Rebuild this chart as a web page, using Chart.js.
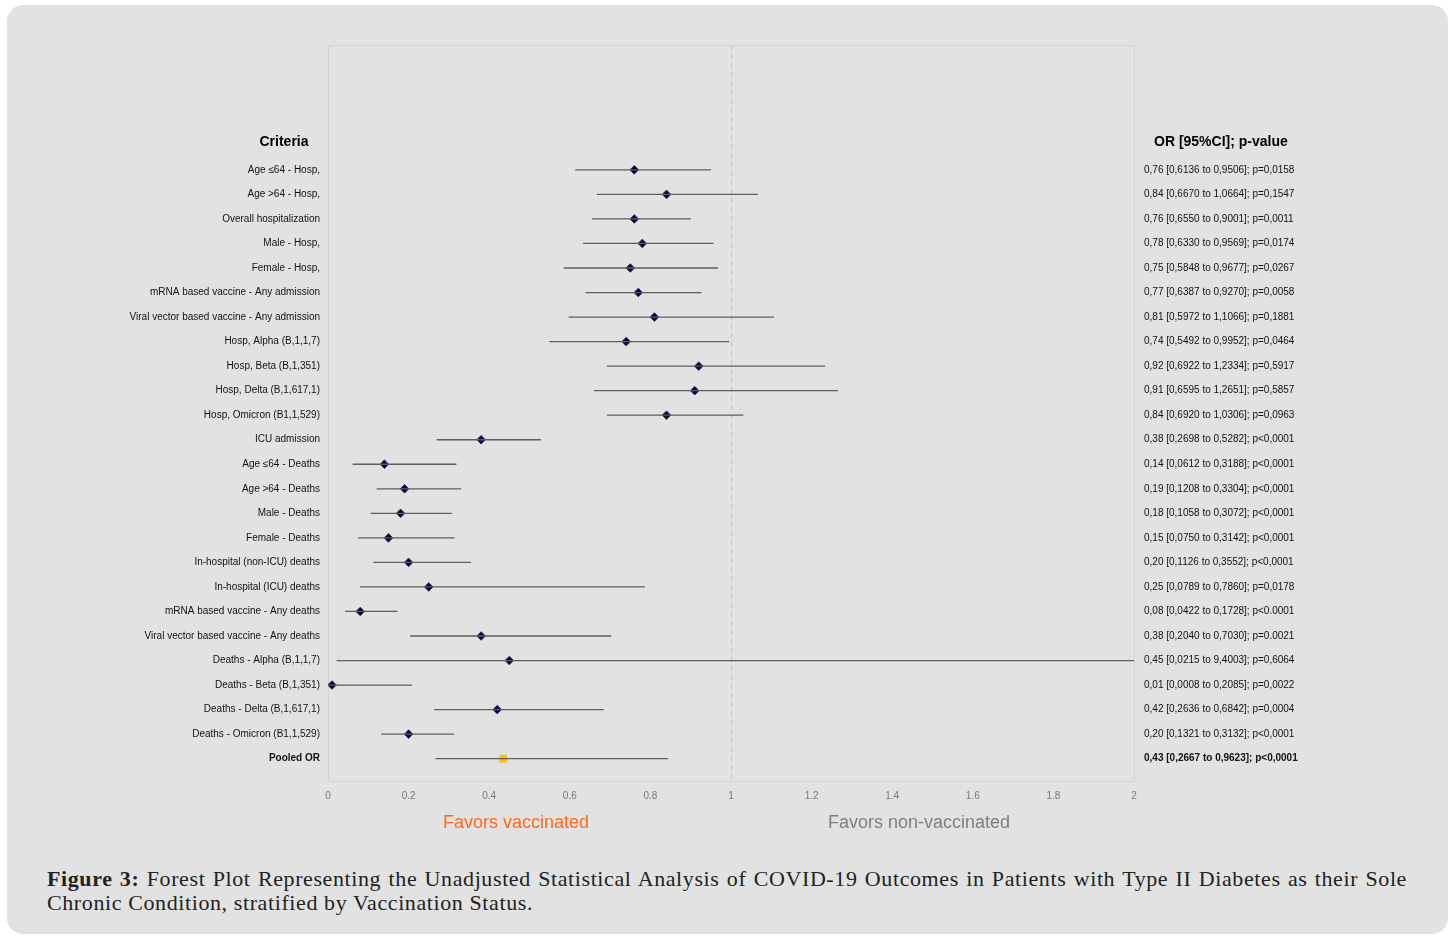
<!DOCTYPE html>
<html>
<head>
<meta charset="utf-8">
<script src="https://cdn.jsdelivr.net/npm/chart.js@4.4.1/dist/chart.umd.min.js"></script>
<style>
    body { margin: 0; background: #fff; }
    .panel {
        position: absolute; left: 7px; top: 5px; width: 1441px; height: 929px;
        background: #e2e2e2; border-radius: 16px;
    }
    #chart { position: absolute; left: 0; top: 0; }
    .caption {
        position: absolute; left: 47px; top: 867px; width: 1360px;
        font-family: "Liberation Serif", "DejaVu Serif", serif; font-size: 22px;
        letter-spacing: 0.6px; line-height: 24px; color: #222; text-align: justify;
    }
</style>
</head>
<body>
<div class="panel"></div>
<canvas id="chart" width="1453" height="850"></canvas>
<div class="caption"><b>Figure 3:</b> Forest Plot Representing the Unadjusted Statistical Analysis of COVID-19 Outcomes in Patients with Type II Diabetes as their Sole Chronic Condition, stratified by Vaccination Status.</div>

<script>
// Rows, top to bottom
const criteria = [
    'Age ≤64 - Hosp,', 'Age >64 - Hosp,', 'Overall hospitalization', 'Male - Hosp,', 'Female - Hosp,',
    'mRNA based vaccine - Any admission', 'Viral vector based vaccine - Any admission',
    'Hosp, Alpha (B,1,1,7)', 'Hosp, Beta (B,1,351)', 'Hosp, Delta (B,1,617,1)', 'Hosp, Omicron (B1,1,529)',
    'ICU admission', 'Age ≤64 - Deaths', 'Age >64 - Deaths', 'Male - Deaths', 'Female - Deaths',
    'In-hospital (non-ICU) deaths', 'In-hospital (ICU) deaths', 'mRNA based vaccine - Any deaths',
    'Viral vector based vaccine - Any deaths', 'Deaths - Alpha (B,1,1,7)', 'Deaths - Beta (B,1,351)',
    'Deaths - Delta (B,1,617,1)', 'Deaths - Omicron (B1,1,529)', 'Pooled OR'
];

const oddsRatio = [0.76, 0.84, 0.76, 0.78, 0.75, 0.77, 0.81, 0.74, 0.92, 0.91, 0.84, 0.38, 0.14, 0.19,
    0.18, 0.15, 0.20, 0.25, 0.08, 0.38, 0.45, 0.01, 0.42, 0.20, 0.435];
const ciLow = [0.6136, 0.6670, 0.6550, 0.6330, 0.5848, 0.6387, 0.5972, 0.5492, 0.6922, 0.6595, 0.6920,
    0.2698, 0.0612, 0.1208, 0.1058, 0.0750, 0.1126, 0.0789, 0.0422, 0.2040, 0.0215, 0.0008, 0.2636,
    0.1321, 0.2667];
// upper bounds as drawn (pooled line ends near 0.84 in the figure)
const ciHigh = [0.9506, 1.0664, 0.9001, 0.9569, 0.9677, 0.9270, 1.1066, 0.9952, 1.2334, 1.2651, 1.0306,
    0.5282, 0.3188, 0.3304, 0.3072, 0.3142, 0.3552, 0.7860, 0.1728, 0.7030, 9.4003, 0.2085, 0.6842,
    0.3132, 0.844];

const orText = [
    '0,76 [0,6136 to 0,9506]; p=0,0158', '0,84 [0,6670 to 1,0664]; p=0,1547',
    '0,76 [0,6550 to 0,9001]; p=0,0011', '0,78 [0,6330 to 0,9569]; p=0,0174',
    '0,75 [0,5848 to 0,9677]; p=0,0267', '0,77 [0,6387 to 0,9270]; p=0,0058',
    '0,81 [0,5972 to 1,1066]; p=0,1881', '0,74 [0,5492 to 0,9952]; p=0,0464',
    '0,92 [0,6922 to 1,2334]; p=0,5917', '0,91 [0,6595 to 1,2651]; p=0,5857',
    '0,84 [0,6920 to 1,0306]; p=0,0963', '0,38 [0,2698 to 0,5282]; p<0,0001',
    '0,14 [0,0612 to 0,3188]; p<0,0001', '0,19 [0,1208 to 0,3304]; p<0,0001',
    '0,18 [0,1058 to 0,3072]; p<0,0001', '0,15 [0,0750 to 0,3142]; p<0,0001',
    '0,20 [0,1126 to 0,3552]; p<0,0001', '0,25 [0,0789 to 0,7860]; p=0,0178',
    '0,08 [0,0422 to 0,1728]; p<0.0001', '0,38 [0,2040 to 0,7030]; p=0.0021',
    '0,45 [0,0215 to 9,4003]; p=0,6064', '0,01 [0,0008 to 0,2085]; p=0,0022',
    '0,42 [0,2636 to 0,6842]; p=0,0004', '0,20 [0,1321 to 0,3132]; p<0,0001',
    '0,43 [0,2667 to 0,9623]; p<0,0001'
];

const xTicks = [0, 0.2, 0.4, 0.6, 0.8, 1, 1.2, 1.4, 1.6, 1.8, 2];

const FONT = '"Liberation Sans", Arial, sans-serif';
const lastRow = criteria.length - 1;

// CI segments, broken by null gaps
const ciSegments = [];
criteria.forEach((c, i) => {
    ciSegments.push({ x: ciLow[i], y: i }, { x: ciHigh[i], y: i }, { x: ciHigh[i], y: null });
});

const studyPoints = oddsRatio.slice(0, lastRow).map((v, i) => ({ x: v, y: i }));
const pooledPoint = [{ x: oddsRatio[lastRow], y: lastRow }];

function rowTicks(scale) {
    scale.ticks = criteria.map((c, i) => ({ value: i }));
}

function tickFont(ctx) {
    const bold = ctx.tick && ctx.tick.value === lastRow;
    return { family: FONT, size: 10, weight: bold ? 'bold' : 'normal' };
}

const decorations = {
    id: 'decorations',
    beforeDatasetsDraw(chart) {
        const { ctx, chartArea: a, scales } = chart;
        ctx.save();
        // reference line at OR = 1
        const x1 = scales.x.getPixelForValue(1);
        ctx.strokeStyle = '#c2c2c2';
        ctx.lineWidth = 1;
        ctx.setLineDash([5, 4]);
        ctx.beginPath();
        ctx.moveTo(Math.round(x1) + 0.5, a.top);
        ctx.lineTo(Math.round(x1) + 0.5, a.bottom);
        ctx.stroke();
        ctx.setLineDash([]);
        // plot frame
        ctx.strokeStyle = '#d2d2d2';
        ctx.strokeRect(a.left + 0.5, a.top + 0.5, a.right - a.left, a.bottom - a.top);
        ctx.restore();
    },
    afterDraw(chart) {
        const { ctx, scales } = chart;
        const yHead = scales.y.getPixelForValue(-1.15);
        ctx.save();
        ctx.fillStyle = '#000';
        ctx.font = 'bold 14px ' + FONT;
        ctx.textBaseline = 'middle';
        ctx.textAlign = 'center';
        ctx.fillText('Criteria', 284, yHead);
        ctx.textAlign = 'left';
        ctx.fillText('OR [95%CI]; p-value', 1154, yHead);

        ctx.font = '18px ' + FONT;
        ctx.textAlign = 'center';
        ctx.fillStyle = '#ff6a1c';
        ctx.fillText('Favors vaccinated', 516, 823);
        ctx.fillStyle = '#7f7f7f';
        ctx.fillText('Favors non-vaccinated', 919, 823);
        ctx.restore();
    }
};

new Chart(document.getElementById('chart'), {
    type: 'scatter',
    data: {
        datasets: [
            {
                data: ciSegments,
                showLine: true,
                spanGaps: false,
                borderColor: '#5e5e5e',
                borderWidth: 1.3,
                pointRadius: 0,
                yAxisID: 'y'
            },
            {
                data: studyPoints,
                pointStyle: 'rectRot',
                pointRadius: 4.3,
                backgroundColor: '#0b0420',
                borderColor: '#3d1c96',
                borderWidth: 1,
                yAxisID: 'y'
            },
            {
                data: pooledPoint,
                pointStyle: 'rect',
                pointRadius: 5.5,
                backgroundColor: '#ffc000',
                borderColor: '#ffc000',
                borderWidth: 0,
                yAxisID: 'y'
            }
        ]
    },
    options: {
        responsive: false,
        animation: false,
        layout: { padding: { top: 45, left: 0, right: 0, bottom: 0 } },
        plugins: {
            legend: { display: false },
            tooltip: { enabled: false }
        },
        scales: {
            x: {
                type: 'linear',
                min: 0,
                max: 2,
                afterBuildTicks: (scale) => { scale.ticks = xTicks.map(v => ({ value: v })); },
                afterFit: (scale) => { scale.height = 69; },
                grid: { display: false, drawTicks: false },
                border: { display: false },
                ticks: {
                    padding: 9,
                    color: '#777',
                    font: { family: FONT, size: 10 },
                    callback: (v) => String(+v.toFixed(1))
                }
            },
            y: {
                type: 'linear',
                position: 'left',
                reverse: true,
                min: -5.09,
                max: 24.91,
                afterBuildTicks: rowTicks,
                afterFit: (scale) => { scale.width = 328; },
                grid: { display: false, drawTicks: false },
                border: { display: false },
                ticks: {
                    autoSkip: false,
                    padding: 8,
                    color: '#111',
                    font: tickFont,
                    callback: (v) => criteria[v] || ''
                }
            },
            yRight: {
                type: 'linear',
                position: 'right',
                reverse: true,
                min: -5.09,
                max: 24.91,
                afterBuildTicks: rowTicks,
                afterFit: (scale) => { scale.width = 319; },
                grid: { display: false, drawTicks: false },
                border: { display: false },
                ticks: {
                    autoSkip: false,
                    padding: 10,
                    color: '#111',
                    font: tickFont,
                    callback: (v) => orText[v] || ''
                }
            }
        }
    },
    plugins: [decorations]
});
</script>
</body>
</html>
